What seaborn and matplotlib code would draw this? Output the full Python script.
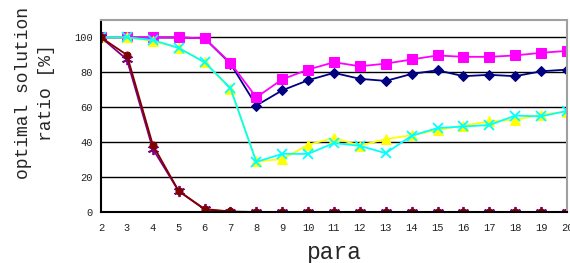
import matplotlib
matplotlib.use("Agg")
import matplotlib.pyplot as plt
import seaborn as sns
import pandas as pd

para = list(range(2, 21))
navy = [100, 100, 100, 100, 99.5, 85, 61, 69.7, 75.5, 79.7, 76.3, 75.1, 79.1, 81.2, 77.8, 78.6, 77.8, 80.6, 81.6]
magenta = [100, 100, 100, 100, 99.5, 85.4, 65.7, 76, 81.6, 85.8, 83.5, 85, 87.4, 89.7, 88.9, 88.9, 89.7, 91.2, 92.3]
yellow = [100, 100, 98, 94, 85.8, 70.5, 29, 30.3, 38.5, 42.5, 38, 41.8, 44, 47, 49.5, 51.9, 52.9, 55.7, 57.5]
cyan = [100, 100, 98.5, 94, 85.8, 71, 28.7, 33.3, 33.3, 39.5, 37.9, 33.7, 43.7, 48.1, 49, 49.8, 55.2, 54.8, 57.9]
purple = [100, 87.4, 36.2, 12, 1.5, 0, 0, 0, 0, 0, 0, 0, 0, 0, 0, 0, 0, 0, 0]
darkred = [100, 90, 38.5, 12, 1.7, 0.3, 0, 0, 0, 0, 0, 0, 0, 0, 0, 0, 0, 0, 0]

series = [
    ("navy", navy, "#000080", "D", 5),
    ("magenta", magenta, "#FF00FF", "s", 6.5),
    ("yellow", yellow, "#FFFF00", "^", 7),
    ("cyan", cyan, "#00FFFF", "x", 7),
    ("purple", purple, "#800080", (6, 2, 0), 8),
    ("darkred", darkred, "#800000", "o", 5),
]

sns.set_style("white")
plt.rcParams['font.family'] = ['Liberation Mono', 'DejaVu Sans Mono']

fig = plt.figure(figsize=(5.7, 2.63), dpi=100)
ax = fig.add_axes([101/570, 1-212/263, (567-101)/570, (212-20)/263])

for name, vals, col, mk, ms in series:
    df = pd.DataFrame({"para": para, "v": vals})
    kw = dict(markeredgecolor=col, markerfacecolor=col)
    if mk in ("x", (6, 2, 0)):
        kw["markeredgewidth"] = 1.3
    sns.lineplot(data=df, x="para", y="v", ax=ax, color=col, marker=mk,
                 markersize=ms, linewidth=1.3, legend=False, **kw)

ax.set_xlim(2, 20)
ax.set_ylim(0, 110)
ax.set_yticks([0, 20, 40, 60, 80, 100])
ax.set_xticks(para)
ax.grid(False)
for yv in [20, 40, 60, 80, 100]:
    ax.axhline(yv, color="black", linewidth=1.0, zorder=0)

for s in ["top", "right"]:
    ax.spines[s].set_color("#a0a0a0")
    ax.spines[s].set_linewidth(1.5)
for s in ["left", "bottom"]:
    ax.spines[s].set_color("black")
    ax.spines[s].set_linewidth(1.5)

ax.tick_params(axis="x", direction="in", length=3, width=1, colors="black",
               labelsize=7.5, pad=8, labelcolor="#222222")
ax.tick_params(axis="y", length=0, labelsize=7.5, pad=6, labelcolor="#222222")

ax.set_xlabel("")
ax.set_ylabel("")
fig.text(334/570, 1-252/263, "para", fontsize=16.5, ha="center", va="center")
fig.text(35/570, 1-93/263, "optimal solution\nratio [%]", fontsize=13,
         rotation=90, ha="center", va="center", linespacing=1.4, multialignment="center")

fig.savefig("out.png", dpi=100)
